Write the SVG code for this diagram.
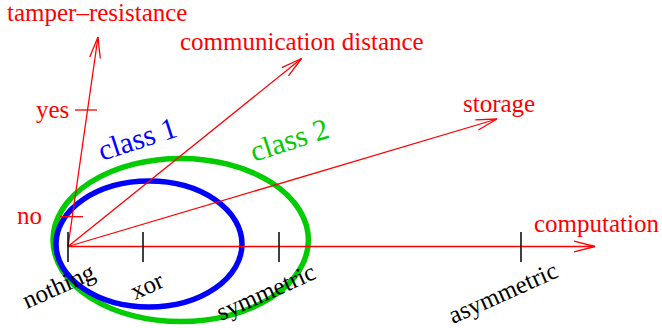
<svg xmlns="http://www.w3.org/2000/svg" width="662" height="328" viewBox="0 0 662 328">
<style>
.ax{fill:none;stroke:#ff0000;stroke-width:1.3}
.tk{fill:none;stroke:#000;stroke-width:1.5}
.red{font-family:"Liberation Serif","Times New Roman",serif;font-size:25px;fill:#ff0000}
.blk{font-family:"Liberation Serif","Times New Roman",serif;font-size:25px;fill:#000}
.cls{font-family:"Liberation Serif","Times New Roman",serif;font-size:30px}
</style>
<defs>
<marker id="ah" markerUnits="userSpaceOnUse" orient="auto" overflow="visible" markerWidth="1" markerHeight="1" refX="0" refY="0">
<path d="M-21,-5.3 L0,0 L-21,5.3" fill="none" stroke="#ff0000" stroke-width="1.3"/>
</marker>
</defs>
<g id="class2">
<ellipse cx="180.7" cy="240" rx="127.7" ry="81.6" fill="none" stroke="#00cc00" stroke-width="5.5"/>
<text class="cls" fill="#00cc00" transform="translate(254,162) rotate(-18)">class 2</text>
</g>
<g id="class1">
<ellipse cx="149" cy="244" rx="93" ry="63" fill="none" stroke="#0000ff" stroke-width="5.5"/>
<text class="cls" fill="#0000ff" transform="translate(102,161) rotate(-18)">class 1</text>
</g>
<g id="connectors">
<line class="ax" x1="68" y1="246.5" x2="98" y2="37" marker-end="url(#ah)"/>
<line class="ax" x1="68" y1="246.5" x2="301.5" y2="58.5" marker-end="url(#ah)"/>
<line class="ax" x1="68" y1="246.5" x2="497" y2="119" marker-end="url(#ah)"/>
<line class="ax" x1="68" y1="246.5" x2="595" y2="246.5" marker-end="url(#ah)"/>
<line class="ax" x1="75" y1="110" x2="97" y2="110"/>
<line class="ax" x1="60" y1="216.7" x2="83" y2="216.7"/>
<line class="tk" x1="68" y1="232" x2="68" y2="262"/>
<line class="tk" x1="143" y1="232" x2="143" y2="262"/>
<line class="tk" x1="279" y1="232" x2="279" y2="262"/>
<line class="tk" x1="521" y1="232" x2="521" y2="262"/>
</g>
<g id="axis-tamper"><text class="red" x="7" y="21">tamper–resistance</text></g>
<g id="axis-comm"><text class="red" x="180" y="50">communication distance</text></g>
<g id="axis-storage"><text class="red" x="463" y="112">storage</text></g>
<g id="axis-computation"><text class="red" x="534" y="232">computation</text></g>
<g id="tick-yes"><text class="red" x="36" y="118">yes</text></g>
<g id="tick-no"><text class="red" x="17" y="224">no</text></g>
<g id="tick-nothing"><text class="blk" transform="translate(27,309) rotate(-24)">nothing</text></g>
<g id="tick-xor"><text class="blk" transform="translate(135,300) rotate(-24)">xor</text></g>
<g id="tick-symmetric"><text class="blk" transform="translate(221,321) rotate(-24)">symmetric</text></g>
<g id="tick-asymmetric"><text class="blk" transform="translate(453,324) rotate(-24)">asymmetric</text></g>
</svg>
